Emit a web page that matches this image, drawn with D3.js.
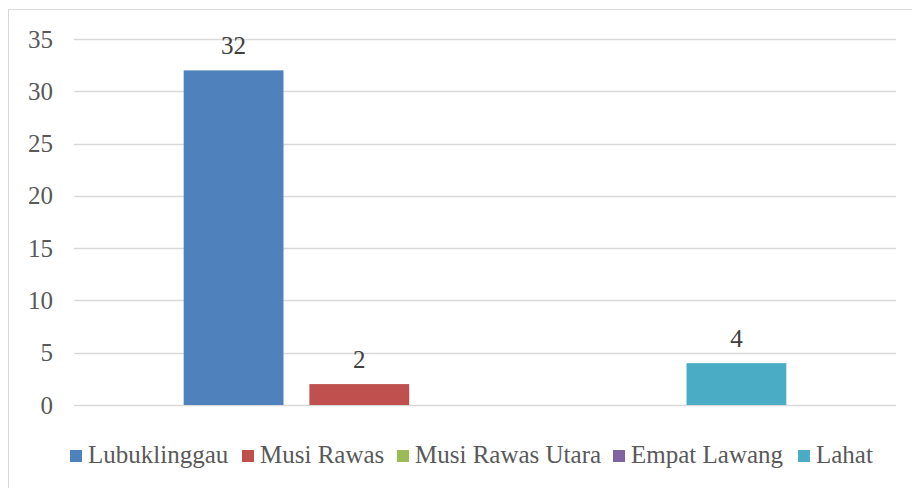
<!DOCTYPE html>
<html>
<head>
<meta charset="utf-8">
<script src="https://cdn.jsdelivr.net/npm/d3@7"></script>
<style>
  body { margin: 0; background: #fff; }
  svg text { font-family: "Liberation Serif", "DejaVu Serif", serif; }
</style>
</head>
<body>
<svg id="svg"></svg>
<script>
// data
const category = "Kabupaten";
const seriesNames = ["Lubuklinggau", "Musi Rawas", "Musi Rawas Utara", "Empat Lawang", "Lahat"];
const seriesValues = [32, 2, 0, 0, 4];
const seriesColors = ["#4f81bd", "#c0504d", "#9bbb59", "#8064a2", "#4bacc6"];
const yTicks = [0, 5, 10, 15, 20, 25, 30, 35];

const width = 912;
const height = 488;
const margin = { top: 39, right: 16, bottom: 83, left: 74 };

const svg = d3.select("#svg")
  .attr("width", width)
  .attr("height", height);

// chart border
svg.append("rect")
  .attr("x", 8.5)
  .attr("y", 9.5)
  .attr("width", width + 10)
  .attr("height", height + 10)
  .attr("fill", "none")
  .attr("stroke", "#d9d9d9")
  .attr("stroke-width", 1);

// SCALES
const yScale = d3.scaleLinear()
  .domain([0, 35])
  .range([height - margin.bottom, margin.top]);

const x0 = d3.scaleBand()
  .domain([category])
  .range([margin.left, width - margin.right])
  .paddingInner(0)
  .paddingOuter(0.182);

const x1 = d3.scaleBand()
  .domain(seriesNames)
  .range([0, x0.bandwidth()])
  .paddingInner(0.206)
  .paddingOuter(0);

// gridlines
svg.append("g")
  .selectAll("line")
  .data(yTicks)
  .enter()
  .append("line")
  .attr("x1", margin.left)
  .attr("x2", width - margin.right)
  .attr("y1", d => Math.round(yScale(d)) + 0.5)
  .attr("y2", d => Math.round(yScale(d)) + 0.5)
  .attr("stroke", "#d9d9d9")
  .attr("stroke-width", 1.5);

// y axis labels
svg.append("g")
  .selectAll("text")
  .data(yTicks)
  .enter()
  .append("text")
  .attr("x", 53)
  .attr("y", d => yScale(d))
  .attr("dy", "0.34em")
  .attr("text-anchor", "end")
  .attr("font-size", "25px")
  .attr("fill", "#595959")
  .text(d => d);

// bars
const data = seriesNames.map((name, i) => ({ name: name, value: seriesValues[i], color: seriesColors[i] }));

const barGroup = svg.append("g")
  .attr("transform", `translate(${x0(category)}, 0)`);

barGroup.selectAll("rect")
  .data(data.filter(d => d.value > 0))
  .enter()
  .append("rect")
  .attr("x", d => x1(d.name))
  .attr("y", d => yScale(d.value))
  .attr("width", x1.bandwidth())
  .attr("height", d => yScale(0) - yScale(d.value))
  .attr("fill", d => d.color);

barGroup.selectAll(".bar-label")
  .data(data.filter(d => d.value > 0))
  .enter()
  .append("text")
  .attr("class", "bar-label")
  .attr("x", d => x1(d.name) + x1.bandwidth() / 2)
  .attr("y", d => yScale(d.value) - 16)
  .attr("text-anchor", "middle")
  .attr("font-size", "25px")
  .attr("fill", "#404040")
  .text(d => d.value);

// legend
const legendX = [70, 242, 397, 613, 798];
const legend = svg.append("g")
  .selectAll("g")
  .data(data)
  .enter()
  .append("g")
  .attr("transform", (d, i) => `translate(${legendX[i]}, 450)`);

legend.append("rect")
  .attr("width", 12)
  .attr("height", 12)
  .attr("fill", d => d.color);

legend.append("text")
  .attr("x", 18)
  .attr("y", 13)
  .attr("font-size", "25px")
  .attr("fill", "#595959")
  .text(d => d.name);
</script>
</body>
</html>
